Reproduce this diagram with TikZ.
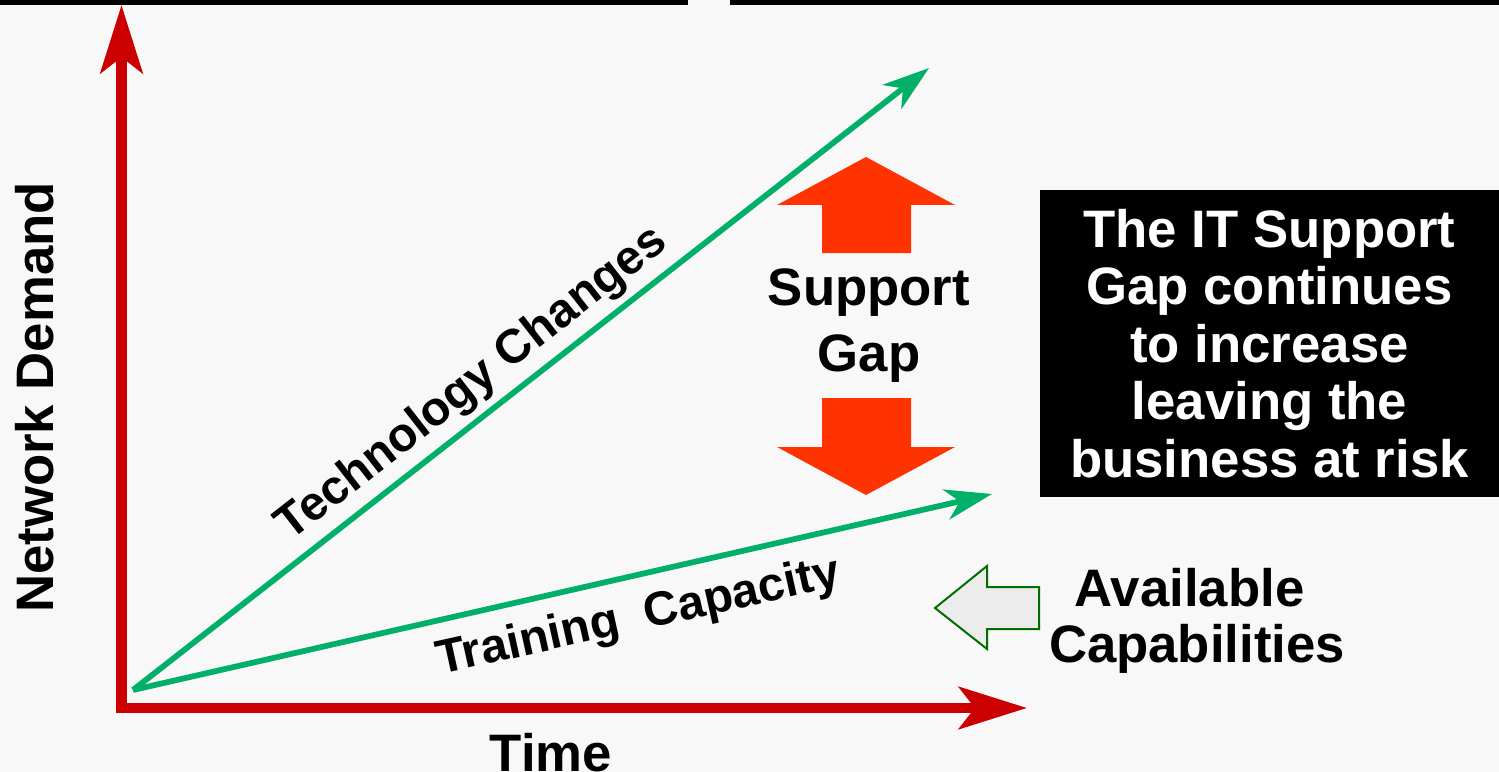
\documentclass[tikz,border=0pt]{standalone}
\usepackage{fontspec}
\setmainfont{Liberation Sans}
\usetikzlibrary{arrows.meta}
\definecolor{axisred}{RGB}{204,0,0}
\definecolor{trendgreen}{RGB}{0,176,104}
\definecolor{gaporange}{RGB}{255,51,0}
\definecolor{paper}{RGB}{248,248,248}
\definecolor{capgreen}{RGB}{0,110,0}
\definecolor{capgray}{RGB}{236,236,236}

\begin{document}
\begin{tikzpicture}[x=0.2mm,y=-0.2mm,
  axis/.style={axisred,line width=2.1mm,-{Stealth[length=13.6mm,width=8.4mm,inset=3.2mm]}},
  trend/.style={trendgreen,line width=1.15mm,-{Stealth[length=9.4mm,width=6.1mm,inset=2.8mm]}},
  big/.style={font=\bfseries\fontsize{30}{37.6}\selectfont,inner sep=0pt},
  slope/.style={font=\bfseries\fontsize{27.2}{30}\selectfont,inner sep=0pt,anchor=base}]
\fill[paper] (0,0) rectangle (1499,772);
\useasboundingbox (0,0) rectangle (1499,772);
% rule along the top
\fill (0,0) rectangle (688,5);
\fill (730,0) rectangle (1499,5);
% axes
\coordinate (Y0) at (121.5,713);
\coordinate (Y1) at (121.5,5);
\coordinate (X0) at (116,708);
\coordinate (X1) at (1027,708);
\draw[axis] (Y0)--(Y1);
\draw[axis] (X0)--(X1);
\node[big,rotate=90,anchor=base] (demand) at (53,397.5) {Network Demand};
\node[big,anchor=base] (time) at (551,771) {Time};
% the two trends
\coordinate (G0) at (133,690);
\coordinate (tech) at (929,68);
\coordinate (train) at (992,494);
\draw[trend] (G0)--(tech);
\draw[trend] (G0)--(train);
\node[slope,rotate=38] (techlbl) at (480,394) {Technology Changes};
\node[slope,rotate=12.5] (trainlbl) at (641,630) {Training~~Capacity};
% gap arrows
\fill[gaporange] (866,157)--(955,205)--(911,205)--(911,253)--(822,253)--(822,205)--(777,205)--cycle;
\fill[gaporange] (866,495)--(955,447)--(911,447)--(911,398)--(822,398)--(822,447)--(777,447)--cycle;
\node[big,align=center] (gap) at (869,326) {Support\\Gap};
% message box
\node[font=\bfseries\fontsize{30}{32.7}\selectfont,inner sep=0pt,fill=black,text=white,
  minimum width=91.8mm,minimum height=61.4mm,align=center] (msg) at (1269.5,343.5)
  {The IT Support\\Gap continues\\to increase\\leaving the\\business at risk};
% capabilities
\draw[capgreen,fill=capgray,line width=0.4mm] (935,608)--(987,566)--(987,587)--(1039,587)
  --(1039,629)--(987,629)--(987,649)--cycle;
\node[font=\bfseries\fontsize{30}{31.9}\selectfont,inner sep=0pt,align=center] (avail) at (1197,621)
  {Available\hspace*{.28em}\\Capabilities};
\end{tikzpicture}
\end{document}
